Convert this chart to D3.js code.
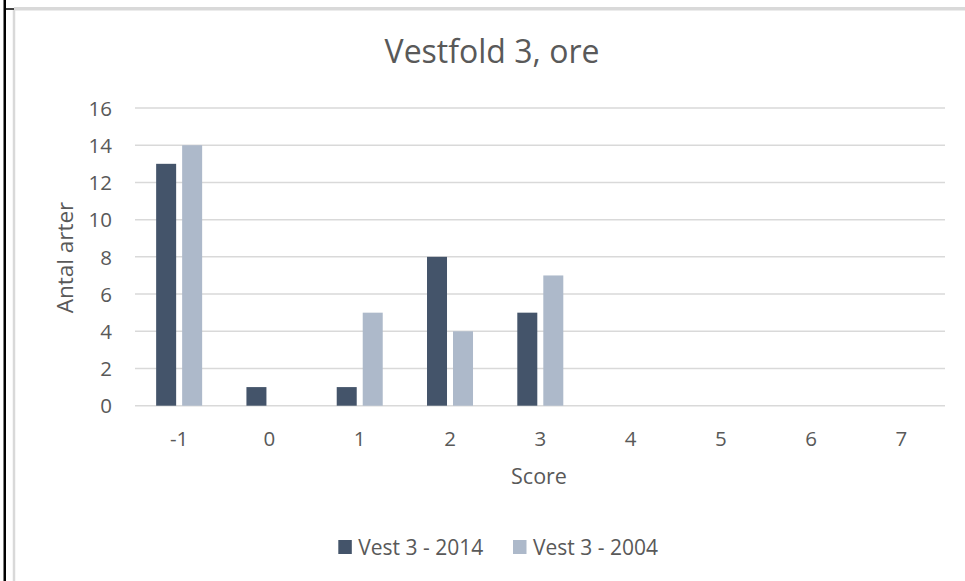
<!DOCTYPE html>
<html>
<head>
<meta charset="utf-8">
<script src="https://cdn.jsdelivr.net/npm/d3@7"></script>
<style>
  html, body { margin: 0; padding: 0; background: #fff; }
  svg { display: block; font-family: "Open Sans", "Liberation Sans", sans-serif; }
</style>
</head>
<body>
<svg id="chart" width="965" height="581"></svg>
<script>
const categories = ["-1", "0", "1", "2", "3", "4", "5", "6", "7"];
const seriesNames = ["Vest 3 - 2014", "Vest 3 - 2004"];
const values2014 = [13, 1, 1, 8, 5, 0, 0, 0, 0];
const values2004 = [14, 0, 5, 4, 7, 0, 0, 0, 0];
const yTicks = [0, 2, 4, 6, 8, 10, 12, 14, 16];
const colors = ["#44546A", "#ADB9CA"];

const seriesValues = [values2014, values2004];
const table = categories.map((c, i) => ({
  cat: c,
  vals: seriesNames.map((s, j) => ({ series: s, idx: j, value: seriesValues[j][i] }))
}));

const svg = d3.select("#chart");
const textColor = "#595959";

// frame lines (document borders)
svg.append("line").attr("x1", 4.75).attr("x2", 4.75).attr("y1", 0).attr("y2", 581)
  .attr("stroke", "#000").attr("stroke-width", 2.5);
svg.append("line").attr("x1", 4).attr("x2", 14).attr("y1", 9).attr("y2", 9)
  .attr("stroke", "#000").attr("stroke-width", 1.5);
svg.append("line").attr("x1", 14).attr("x2", 14).attr("y1", 10).attr("y2", 581)
  .attr("stroke", "#D9D9D9").attr("stroke-width", 2.5);
svg.append("line").attr("x1", 14).attr("x2", 965).attr("y1", 8.7).attr("y2", 8.7)
  .attr("stroke", "#D9D9D9").attr("stroke-width", 3.5);

const x0 = d3.scaleBand().domain(categories).range([134, 946.6]).paddingInner(0).paddingOuter(0);
const bw = x0.bandwidth();
const groupW = 46;
const x1 = d3.scaleBand().domain(seriesNames)
  .range([(bw - groupW) / 2, (bw + groupW) / 2])
  .paddingInner(2 - groupW / 26).paddingOuter(0);
const y = d3.scaleLinear().domain([0, 16]).range([405.7, 108]);

// gridlines
svg.append("g").selectAll("line").data(yTicks).join("line")
  .attr("x1", 135).attr("x2", 945)
  .attr("y1", d => y(d)).attr("y2", d => y(d))
  .attr("stroke", "#D9D9D9").attr("stroke-width", 1.5);

// y axis labels
const yAxis = d3.axisLeft(y).tickValues(yTicks).tickSize(0).tickPadding(0);
const gy = svg.append("g").attr("transform", "translate(112,0)").call(yAxis);
gy.select(".domain").remove();
gy.selectAll("text").attr("fill", textColor).attr("font-size", 20.5)
  .attr("font-family", "Open Sans").attr("dy", "0.35em");

// x axis labels
const xAxis = d3.axisBottom(x0).tickSize(0).tickPadding(0);
const gx = svg.append("g").attr("transform", "translate(0,446)").call(xAxis);
gx.select(".domain").remove();
gx.selectAll("text").attr("fill", textColor).attr("font-size", 20.5)
  .attr("font-family", "Open Sans").attr("dy", 0).attr("y", 0);

// bars
svg.append("g").selectAll("g").data(table).join("g")
  .attr("transform", d => `translate(${x0(d.cat)},0)`)
  .selectAll("rect").data(d => d.vals.filter(v => v.value > 0)).join("rect")
  .attr("x", d => x1(d.series))
  .attr("width", x1.bandwidth())
  .attr("y", d => y(d.value))
  .attr("height", d => y(0) - y(d.value))
  .attr("fill", d => colors[d.idx]);

// title
svg.append("text").attr("x", 492).attr("y", 63.3).attr("text-anchor", "middle")
  .attr("fill", textColor).attr("font-size", 32).text("Vestfold 3, ore");

// axis titles
svg.append("text").attr("x", 539).attr("y", 484).attr("text-anchor", "middle")
  .attr("fill", textColor).attr("font-size", 21.5).text("Score");
svg.append("text").attr("transform", "translate(73,257.5) rotate(-90)")
  .attr("text-anchor", "middle").attr("fill", textColor).attr("font-size", 22.5).text("Antal arter");

// legend
const legendX = [338.3, 513];
const lg = svg.append("g").selectAll("g").data(seriesNames).join("g")
  .attr("transform", (d, i) => `translate(${legendX[i]},540)`);
lg.append("rect").attr("width", 13.5).attr("height", 14).attr("fill", (d, i) => colors[i]);
lg.append("text").attr("x", 20).attr("y", 15).attr("fill", textColor)
  .attr("font-size", 21).text(d => d);
</script>
</body>
</html>
